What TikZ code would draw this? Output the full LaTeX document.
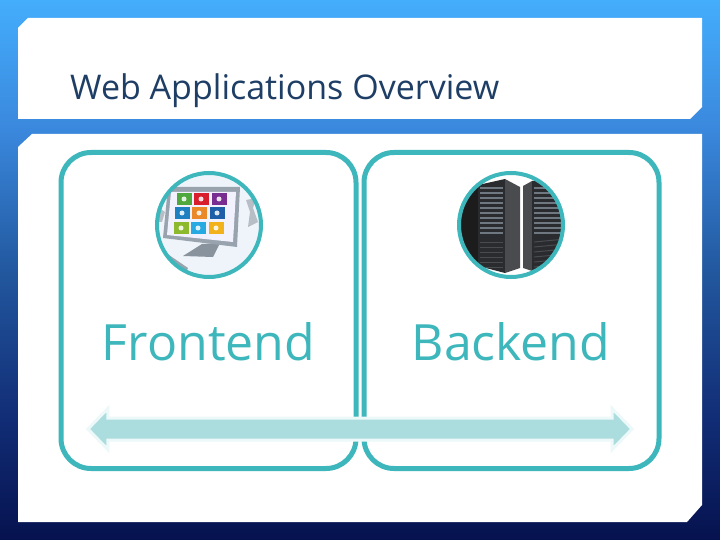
\documentclass[tikz,border=0pt]{standalone}
\usepackage{fontspec}
\setmainfont{Open Sans}
\usetikzlibrary{shapes.arrows}
\definecolor{tealline}{HTML}{3DB7BC}
\definecolor{arrowfill}{HTML}{ABDDDE}
\definecolor{arrowhalo}{HTML}{EDF8F9}
\definecolor{titleblue}{HTML}{1F3E66}
\definecolor{screengray}{HTML}{98A3AE}
\definecolor{screenback}{HTML}{EEF4FA}
\definecolor{rackfront}{HTML}{2A2B2E}
\definecolor{rackplain}{HTML}{4A4B4E}
\definecolor{rackside}{HTML}{2E2E30}
\definecolor{slat}{HTML}{6F7880}
\definecolor{bgA}{HTML}{44ADFC}
\definecolor{bgB}{HTML}{3A88DD}
\definecolor{bgC}{HTML}{22589F}
\definecolor{bgD}{HTML}{122F78}
\definecolor{bgE}{HTML}{06124F}
\pgfdeclareverticalshading{slidebg}{100bp}{
  color(0bp)=(bgE); color(25bp)=(bgE); color(37bp)=(bgD); color(50bp)=(bgC);
  color(63bp)=(bgB); color(75bp)=(bgA); color(100bp)=(bgA)}
\tikzset{
  panelbox/.style={draw=tealline,line width=5pt,rounded corners=30pt,minimum width=295pt,minimum height=316pt,inner sep=0pt},
  bigtext/.style={text=tealline,font=\fontsize{50}{60}\selectfont,inner sep=0pt},
  iconring/.style={draw=tealline,line width=4pt,circle,minimum size=104pt,inner sep=0pt},
  tile/.style={minimum width=15pt,minimum height=12.5pt,inner sep=0pt}
}
\begin{document}
\begin{tikzpicture}[x=1pt,y=-1pt]
\useasboundingbox (0,0) rectangle (720,540);
\shade[shading=slidebg] (0,0) rectangle (720,540);
\fill[white] (28,18) -- (702,18) -- (702,107) -- (690,119) -- (18,119) -- (18,28) -- cycle;
\fill[white] (32,134) -- (702,134) -- (702,505) -- (687,522) -- (18,522) -- (18,147) -- cycle;
\node[anchor=base west,text=titleblue,font=\fontsize{34}{40}\selectfont,inner sep=0pt] (title) at (70,100) {Web Applications Overview};
\node[panelbox] (frontbox) at (208.5,310.5) {};
\node[panelbox] (backbox) at (511.5,310.5) {};
\node[bigtext] (fronttext) at (208.5,342) {Frontend};
\node[bigtext] (backtext) at (511,342) {Backend};
\node[double arrow,fill=arrowfill,draw=arrowhalo,line width=3pt,minimum height=544pt,inner xsep=0pt,inner ysep=9.5pt,
  double arrow head extend=9.5pt,double arrow tip angle=92] (spanarrow) at (360,429) {};
\begin{scope}
\clip (209,225) circle (52pt);
\fill[screenback] (150,170) rectangle (270,280);
\fill[screengray!70] (246,200) -- (256,198) -- (253,208) -- (258,222) -- (248,227) -- (250,212) -- cycle;
\fill[screengray!70] (158,207) -- (165,212) -- (162,222) -- (157,222) -- cycle;
\fill[screengray] (166,253) -- (188,268) -- (186,272) -- (164,257) -- cycle;
\fill[screengray!90!black] (202,244) -- (183,256) -- (213,257) -- (220,243) -- cycle;
\fill[screengray] (168,187) -- (240,187) -- (237,247) -- (163,238) -- cycle;
\fill[white!95!blue] (171,192) -- (236,192) -- (233,242) -- (167,235) -- cycle;
\foreach \tx/\ty/\tcol in {184/199/4FA83D,201/199/D81E2C,219/199/7A2D91,182/213/1E7FC1,199/213/E9892A,217/213/1F5FA8,181/228/8DB92E,198/228/27A9E1,216/228/F2B21B} {
  \definecolor{tilecol}{HTML}{\tcol}
  \node[tile,fill=tilecol] (tile\tx\ty) at (\tx,\ty) {};
  \fill[white!85!tilecol] (\tx,\ty) circle (2.5pt);
}
\end{scope}
\node[iconring] (fronticon) at (209,225) {};
\begin{scope}
\clip (511,225) circle (53pt);
\fill[white] (455,170) rectangle (567,280);
\fill[rackside!60!black] (455,205) -- (478,185) -- (478,268) -- (455,262) -- cycle;
\fill[rackfront] (478,185) -- (505,179) -- (505,273) -- (478,266) -- cycle;
\fill[rackplain] (505,179) -- (520,187) -- (520,268) -- (505,273) -- cycle;
\fill[rackplain] (523,186) -- (532,181) -- (532,271) -- (523,268) -- cycle;
\fill[rackfront] (532,181) -- (570,181) -- (570,263) -- (532,271) -- cycle;
\foreach \sy in {188,193,...,236} {
  \draw[slat,line width=1.6pt] (480,\sy) -- (503,\sy);
  \draw[slat,line width=1.6pt] (534,\sy) -- (566,\sy);
}
\foreach \sy in {242,247,...,267} {
  \draw[rackplain,line width=1pt] (480,\sy) -- (503,\sy);
  \draw[rackplain,line width=1pt] (534,\sy) -- (566,\sy-3);
}
\end{scope}
\node[iconring] (backicon) at (511,225) {};
\end{tikzpicture}
\end{document}
